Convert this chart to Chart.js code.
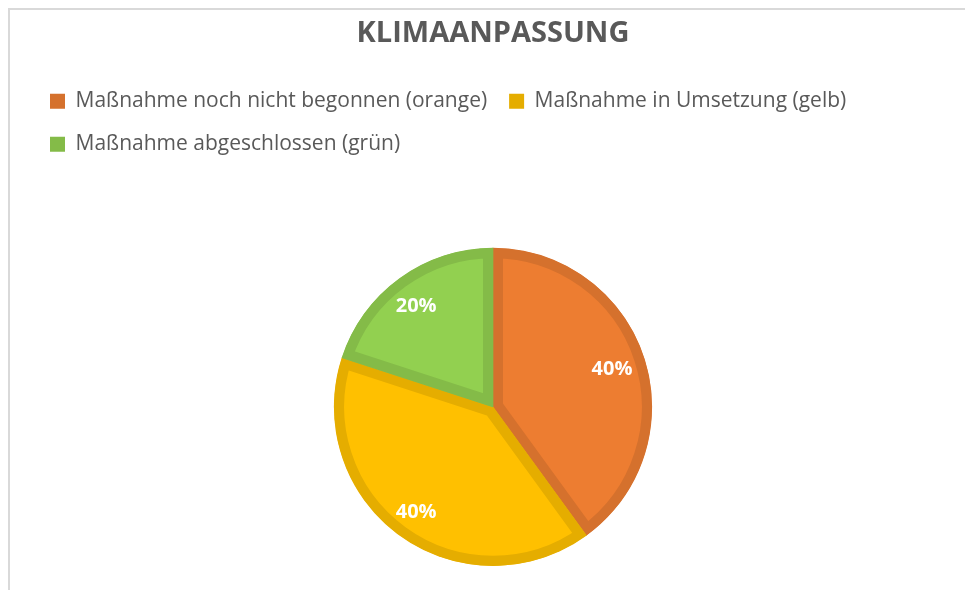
<!DOCTYPE html>
<html>
<head>
<meta charset="utf-8">
<script src="https://cdn.jsdelivr.net/npm/chart.js@4.4.1/dist/chart.umd.min.js"></script>
<style>
    html, body { margin: 0; padding: 0; background: #ffffff; overflow: hidden; }
    #frame {
        position: absolute; left: 8px; top: 8px;
        width: 1200px; height: 900px;
        border: 2px solid #d9d9d9;
    }
    #wrap { position: absolute; left: 0; top: 0; width: 965px; height: 590px; }
</style>
</head>
<body>
<div id="frame"></div>
<div id="wrap"><canvas id="pieChart" width="965" height="590"></canvas></div>
<script>
(function() {
    'use strict';

    const chartTitle = 'KLIMAANPASSUNG';
    const categories = [
        'Maßnahme noch nicht begonnen (orange)',
        'Maßnahme in Umsetzung (gelb)',
        'Maßnahme abgeschlossen (grün)'
    ];
    const values = [40, 40, 20];
    const fillColors = ['#ED7D31', '#FFC000', '#92D050'];
    const edgeColors = ['#D5712D', '#E5AD00', '#84BB48'];

    const textGray = '#595959';

    // draws the percentage inside each slice
    const sliceLabels = {
        id: 'sliceLabels',
        afterDatasetsDraw(chart) {
            const ctx = chart.ctx;
            const meta = chart.getDatasetMeta(0);
            const data = chart.data.datasets[0].data;
            const total = data.reduce((sum, v) => sum + v, 0);
            ctx.save();
            ctx.font = 'bold 20px "Open Sans"';
            ctx.fillStyle = '#ffffff';
            ctx.textAlign = 'center';
            ctx.textBaseline = 'middle';
            meta.data.forEach((arc, i) => {
                const p = arc.getProps(['x', 'y', 'startAngle', 'endAngle', 'outerRadius'], true);
                const mid = (p.startAngle + p.endAngle) / 2;
                const r = p.outerRadius * 0.8;
                const pct = Math.round(data[i] / total * 100) + '%';
                ctx.fillText(pct, p.x + Math.cos(mid) * r - 2, p.y + Math.sin(mid) * r + 2);
            });
            ctx.restore();
        }
    };

    Chart.defaults.font.family = '"Open Sans", "Noto Sans", sans-serif';
    Chart.defaults.color = textGray;

    const defaultLabels = Chart.overrides.pie.plugins.legend.labels.generateLabels;

    new Chart(document.getElementById('pieChart').getContext('2d'), {
        type: 'pie',
        data: {
            labels: categories,
            datasets: [{
                data: values,
                backgroundColor: fillColors,
                borderColor: edgeColors,
                borderWidth: 10,
                borderAlign: 'inner',
                hoverOffset: 0
            }]
        },
        options: {
            responsive: false,
            animation: false,
            layout: {
                padding: { left: 28, right: 7, top: 0, bottom: 24 }
            },
            plugins: {
                title: {
                    display: true,
                    text: chartTitle,
                    color: textGray,
                    font: { size: 29, weight: 'bold' },
                    padding: { top: 16, bottom: 18 }
                },
                legend: {
                    position: 'top',
                    align: 'start',
                    labels: {
                        boxWidth: 15,
                        boxHeight: 15,
                        padding: 22,
                        color: textGray,
                        font: { size: 21 },
                        generateLabels(chart) {
                            return defaultLabels(chart).map(item => {
                                item.fillStyle = edgeColors[item.index];
                                item.lineWidth = 0;
                                return item;
                            });
                        }
                    }
                },
                // empty spacer between legend and pie
                subtitle: {
                    display: true,
                    text: '',
                    weight: 500,
                    font: { size: 10 },
                    padding: { top: 36, bottom: 35 }
                },
                tooltip: { enabled: false }
            }
        },
        plugins: [sliceLabels]
    });
})();
</script>
</body>
</html>
